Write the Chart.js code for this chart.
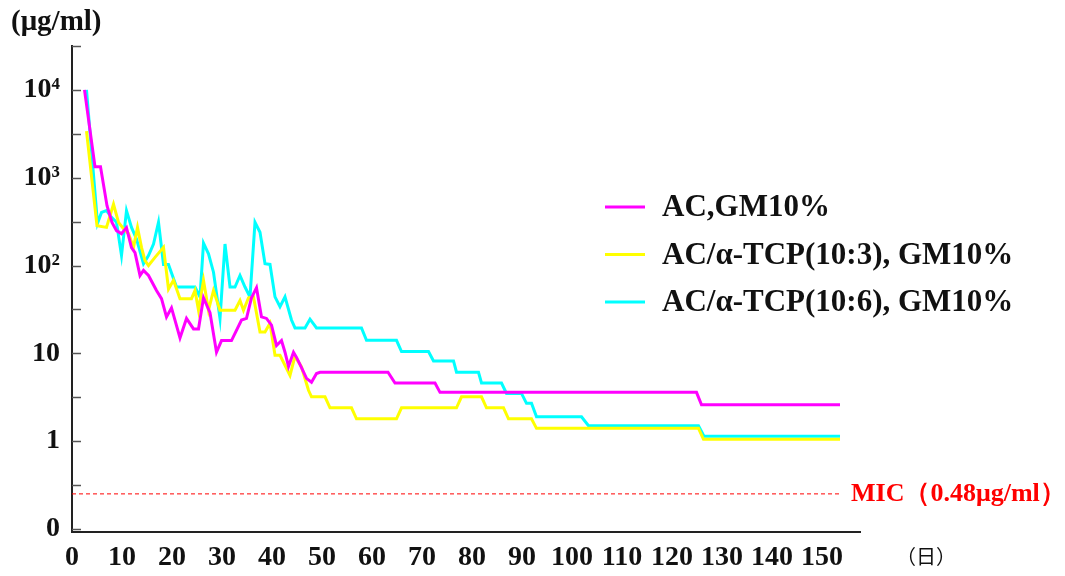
<!DOCTYPE html>
<html>
<head>
<meta charset="utf-8">
<script src="https://cdn.jsdelivr.net/npm/chart.js@4.4.1/dist/chart.umd.min.js"></script>
<style>
  html, body { margin: 0; padding: 0; background: #fff; }
  canvas { display: block; }
</style>
</head>
<body>
<canvas id="c" width="1065" height="576"></canvas>
<script>
const seriesLabels = ['AC,GM10%', 'AC/α-TCP(10:3), GM10%', 'AC/α-TCP(10:6), GM10%'];
const seriesColors = ['#FF00FF', '#FFFF00', '#00FFFF'];

const acDays = [2.5, 4.6, 5.7, 7, 8, 8.9, 9.9, 10.9, 11.9, 12.6, 13.6, 14.3, 15.3, 16.9, 17.9, 18.9, 19.9, 21.6, 22.9, 24.3, 25.3, 26.3, 27.6, 28.9, 29.9, 31.9, 33.9, 34.9, 35.9, 36.9, 37.9, 38.9, 39.9, 40.9, 41.9, 42.6, 43.3, 44.3, 44.9, 45.9, 46.9, 47.9, 48.9, 49.6, 63.2, 64.6, 72.6, 73.6, 124.9, 125.9, 153.6];
const acValues = [10000, 1330, 1330, 480, 310, 250, 230, 270, 160, 140, 77, 88, 77, 52, 42, 26, 33, 15, 25, 19, 19, 43, 29, 10.3, 14, 14, 24, 25, 43, 56, 26, 25, 21, 12.3, 14, 10.3, 7.1, 10.3, 9, 6.9, 5.2, 4.7, 5.9, 6.1, 6.1, 4.6, 4.6, 3.6, 3.6, 2.6, 2.6];

const tcp3Days = [2.9, 5.0, 6.9, 8.3, 9.3, 10.3, 11.3, 12.3, 13.1, 13.9, 14.6, 15.3, 16.6, 18.3, 19.3, 20.3, 21.6, 23.9, 24.6, 25.3, 26.3, 27.3, 28.3, 29.6, 32.6, 33.6, 34.3, 35.3, 36.3, 37.6, 38.6, 39.6, 40.6, 41.6, 43.6, 44.6, 45.9, 47.3, 47.9, 50.6, 51.6, 55.9, 56.9, 64.9, 65.9, 76.9, 77.9, 81.9, 82.9, 86.3, 87.3, 91.9, 92.9, 125.3, 126.3, 153.6];
const tcp3Values = [3400, 285, 272, 500, 310, 263, 231, 161, 272, 161, 114, 100, 124, 161, 54, 68, 42, 42, 52, 31, 68, 31, 52, 31, 31, 40, 31, 43, 44, 17.5, 17.5, 22, 9.5, 9.5, 5.6, 9.3, 7.0, 3.8, 3.2, 3.2, 2.4, 2.4, 1.8, 1.8, 2.4, 2.4, 3.2, 3.2, 2.4, 2.4, 1.8, 1.8, 1.4, 1.4, 1.05, 1.05];

const tcp6Days = [2.9, 5.1, 5.9, 6.9, 7.9, 8.9, 9.9, 10.9, 11.9, 12.9, 14.3, 15.3, 16.3, 17.3, 18.3, 19.3, 20.9, 24.6, 25.6, 26.3, 27.3, 28.3, 29.6, 30.6, 31.6, 32.6, 33.6, 34.6, 35.6, 36.6, 37.6, 38.6, 39.6, 40.6, 41.6, 42.6, 43.9, 44.6, 46.6, 47.6, 48.9, 57.9, 58.9, 64.9, 65.9, 71.3, 72.3, 76.3, 76.9, 81.3, 81.9, 85.9, 86.9, 89.9, 90.9, 91.9, 92.9, 101.9, 103.3, 125.3, 126.4, 153.6];
const tcp6Values = [10000, 303, 403, 422, 354, 311, 130, 422, 272, 201, 105, 130, 176, 311, 103, 103, 57, 57, 44, 180, 136, 84, 25, 176, 57, 57, 77, 57, 44, 311, 239, 105, 103, 44, 34, 44, 24, 19.5, 19.5, 24.5, 19.5, 19.5, 14.1, 14.1, 10.5, 10.5, 8.2, 8.2, 6.1, 6.1, 4.6, 4.6, 3.5, 3.5, 2.7, 2.7, 1.9, 1.9, 1.5, 1.5, 1.14, 1.14];

const micValue = 0.40;
const micLabel = 'MIC（0.48μg/ml）';
const micDays = [0, 153.6];

const xTickValues = [0, 10, 20, 30, 40, 50, 60, 70, 80, 90, 100, 110, 120, 130, 140, 150];
const xTickLabels = ['0', '10', '20', '30', '40', '50', '60', '70', '80', '90', '100', '110', '120', '130', '140', '150'];
const yTickValues = [0, 0.5, 1, 3.1623, 10, 31.623, 100, 316.23, 1000, 3162.3, 10000, 31623];
const yTickLabels = ['0', '', '1', '', '10', '', '10²', '', '10³', '', '10⁴', ''];
const yUnit = '(μg/ml)';
const xUnit = '（日）';

const SERIF = "'Liberation Serif', 'DejaVu Serif', serif";

// Axis that is logarithmic above 1 and linear between 0 and 1
class HybridLogScale extends Chart.Scale {
  static id = 'hybridlog';
  static defaults = {};
  tf(v) { return v >= 1 ? Math.log10(v) : v - 1; }
  parse(raw) { return raw === null || raw === undefined ? null : +raw; }
  determineDataLimits() { this.min = this.options.min; this.max = this.options.max; }
  buildTicks() { return yTickValues.map(v => ({ value: v })); }
  getLabelForValue(v) { return String(v); }
  configure() {
    super.configure();
    this._t0 = this.tf(this.min);
    this._t1 = this.tf(this.max);
  }
  getPixelForValue(v) {
    return this.getPixelForDecimal((this.tf(v) - this._t0) / (this._t1 - this._t0));
  }
  getValueForPixel(p) {
    const t = this._t0 + this.getDecimalForPixel(p) * (this._t1 - this._t0);
    return t >= 0 ? Math.pow(10, t) : t + 1;
  }
}
Chart.register(HybridLogScale);

function pts(days, vals) { return days.map((d, i) => ({ x: d, y: vals[i] })); }

const decorPlugin = {
  id: 'decor',
  afterDraw(chart) {
    const { ctx, chartArea, scales } = chart;
    const ys = scales.y;
    ctx.save();
    // inner y ticks
    ctx.strokeStyle = '#555';
    ctx.lineWidth = 1.5;
    ys.ticks.forEach(t => {
      const py = Math.round(ys.getPixelForValue(t.value)) + 0.5;
      ctx.beginPath();
      ctx.moveTo(chartArea.left, py);
      ctx.lineTo(chartArea.left + 9, py);
      ctx.stroke();
    });
    // legend
    const lx = 605, ly0 = 207, lstep = 47.5;
    chart.data.datasets.forEach((ds, i) => {
      if (!ds.inLegend) return;
      const y = ly0 + i * lstep;
      ctx.strokeStyle = ds.borderColor;
      ctx.lineWidth = 3;
      ctx.beginPath();
      ctx.moveTo(lx, y);
      ctx.lineTo(lx + 40, y);
      ctx.stroke();
      ctx.fillStyle = '#111';
      ctx.font = 'bold 31px ' + SERIF;
      ctx.textAlign = 'left';
      ctx.textBaseline = 'middle';
      ctx.fillText(ds.label, lx + 57, y + 1);
    });
    // MIC label
    const my = ys.getPixelForValue(micValue);
    ctx.fillStyle = '#FF0000';
    ctx.font = 'bold 26px ' + SERIF;
    ctx.textAlign = 'left';
    ctx.textBaseline = 'middle';
    ctx.fillText(micLabel, chartArea.right - 9, my);
    // unit labels
    ctx.fillStyle = '#111';
    ctx.font = 'bold 29px ' + SERIF;
    ctx.textBaseline = 'middle';
    ctx.fillText(yUnit, 11, 23);
    ctx.font = '20px "Noto Sans CJK JP", sans-serif';
    ctx.fillText(xUnit, 896, 556);
    ctx.restore();
  }
};

new Chart(document.getElementById('c'), {
  type: 'line',
  data: {
    datasets: [
      { label: seriesLabels[0], data: pts(acDays, acValues), borderColor: seriesColors[0], inLegend: true },
      { label: seriesLabels[1], data: pts(tcp3Days, tcp3Values), borderColor: seriesColors[1], inLegend: true },
      { label: seriesLabels[2], data: pts(tcp6Days, tcp6Values), borderColor: seriesColors[2], inLegend: true },
      { label: 'MIC', data: micDays.map(d => ({ x: d, y: micValue })), borderColor: '#FF0000', borderWidth: 1, borderDash: [4, 3], inLegend: false }
    ]
  },
  options: {
    responsive: false,
    animation: false,
    devicePixelRatio: 1,
    layout: { padding: { top: 46, right: 205, left: 0, bottom: 0 } },
    elements: {
      line: { borderWidth: 3, tension: 0, fill: false, borderJoinStyle: 'miter' },
      point: { radius: 0, hoverRadius: 0 }
    },
    plugins: { legend: { display: false }, tooltip: { enabled: false }, title: { display: false } },
    scales: {
      x: {
        type: 'linear',
        min: 0,
        max: 157.6,
        grid: { display: false, drawTicks: false },
        border: { display: true, color: '#222', width: 2 },
        afterBuildTicks: s => { s.ticks = xTickValues.map(v => ({ value: v })); },
        afterFit: s => { s.height = 44; },
        ticks: {
          autoSkip: false, maxRotation: 0, padding: 9, color: '#111',
          font: { family: SERIF, size: 28, weight: 'bold' },
          callback: (v, i) => xTickLabels[i]
        }
      },
      y: {
        type: 'hybridlog',
        position: 'left',
        min: -0.034,
        max: 31623,
        grid: { display: false, drawTicks: false },
        border: { display: true, color: '#222', width: 2 },
        afterFit: s => { s.width = 72; },
        ticks: {
          autoSkip: false, padding: 12, color: '#111',
          font: { family: SERIF, size: 28, weight: 'bold' },
          callback: (v, i) => yTickLabels[i]
        }
      }
    }
  },
  plugins: [decorPlugin]
});
</script>
</body>
</html>
